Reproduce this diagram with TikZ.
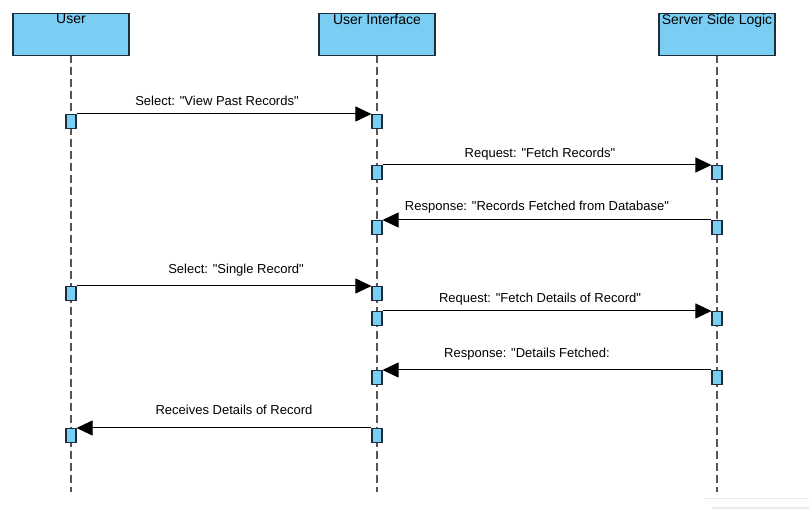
\documentclass[tikz,border=0pt]{standalone}
\usepackage{fontspec}
\setmainfont{Liberation Sans}
\newfontfamily\lsans{Liberation Sans}
\usetikzlibrary{arrows.meta}
\definecolor{actfill}{RGB}{122,206,244}
\definecolor{actdraw}{RGB}{30,45,58}
\definecolor{lifeln}{RGB}{85,85,85}
\tikzset{
  headbox/.style={draw=actdraw, line width=1.3pt, fill=actfill, minimum width=116pt, minimum height=42pt, anchor=north, inner sep=0pt},
  headtext/.style={anchor=north, inner sep=0pt, font=\lsans\fontsize{14}{16}\selectfont},
  actbox/.style={draw=actdraw, line width=1.1pt, fill=actfill, minimum width=10pt, minimum height=14pt, anchor=north, inner sep=0pt},
  lifeline/.style={draw=lifeln, line width=1.5pt, dash pattern=on 8pt off 4pt},
  msg/.style={draw=black, line width=1pt, -{Triangle[length=16pt,width=15pt]}},
  msglabel/.style={anchor=base, inner sep=0pt, font=\lsans\fontsize{13}{15}\selectfont},
}
\begin{document}
\begin{tikzpicture}[x=1pt,y=-1pt]
\useasboundingbox (0,0) rectangle (809,510);
% faint artifact at bottom right
\draw[black!8, line width=1pt] (704,499) -- (809,499);
\draw[black!8, line width=1pt] (712,508) -- (809,508);
% lifelines
\coordinate (uTop) at (71,55); \coordinate (uBot) at (71,492);
\coordinate (iTop) at (377,55); \coordinate (iBot) at (377,492);
\coordinate (sTop) at (717,55); \coordinate (sBot) at (717,492);
\draw[lifeline] (uTop) -- (uBot);
\draw[lifeline] (iTop) -- (iBot);
\draw[lifeline] (sTop) -- (sBot);
% headers
\node[headbox] (hU) at (71,13) {};
\node[headbox] (hI) at (377,13) {};
\node[headbox] (hS) at (717,13) {};
\node[headtext] (tU) at (71,14) {User};
\node[headtext] (tI) at (377,14) {User Interface};
\node[headtext] (tS) at (717,14) {Server Side Logic};
% activation boxes
\node[actbox] (u1) at (71,114) {};
\node[actbox] (i1) at (377,114) {};
\node[actbox] (i2) at (377,165) {};
\node[actbox] (s2) at (717,165) {};
\node[actbox] (i3) at (377,220) {};
\node[actbox] (s3) at (717,220) {};
\node[actbox] (u4) at (71,286) {};
\node[actbox] (i4) at (377,286) {};
\node[actbox] (i5) at (377,311) {};
\node[actbox] (s5) at (717,311) {};
\node[actbox] (i6) at (377,370) {};
\node[actbox] (s6) at (717,370) {};
\node[actbox] (u7) at (71,428) {};
\node[actbox] (i7) at (377,428) {};
% messages
\draw[msg] (u1.north east) -- (i1.north west);
\draw[msg] (i2.north east) -- (s2.north west);
\draw[msg] (s3.north west) -- (i3.north east);
\draw[msg] (u4.north east) -- (i4.north west);
\draw[msg] (i5.north east) -- (s5.north west);
\draw[msg] (s6.north west) -- (i6.north east);
\draw[msg] (i7.north west) -- (u7.north east);
% labels
\node[msglabel] (l1) at (217,106) {Select: "View Past Records"};
\node[msglabel] (l2) at (540,158) {Request: "Fetch Records"};
\node[msglabel] (l3) at (537,211) {Response: "Records Fetched from Database"};
\node[msglabel] (l4) at (236,274) {Select: "Single Record"};
\node[msglabel] (l5) at (540,303) {Request: "Fetch Details of Record"};
\node[msglabel] (l6) at (527,358) {Response: "Details Fetched:};
\node[msglabel] (l7) at (234,415) {Receives Details of Record};
\end{tikzpicture}
\end{document}
